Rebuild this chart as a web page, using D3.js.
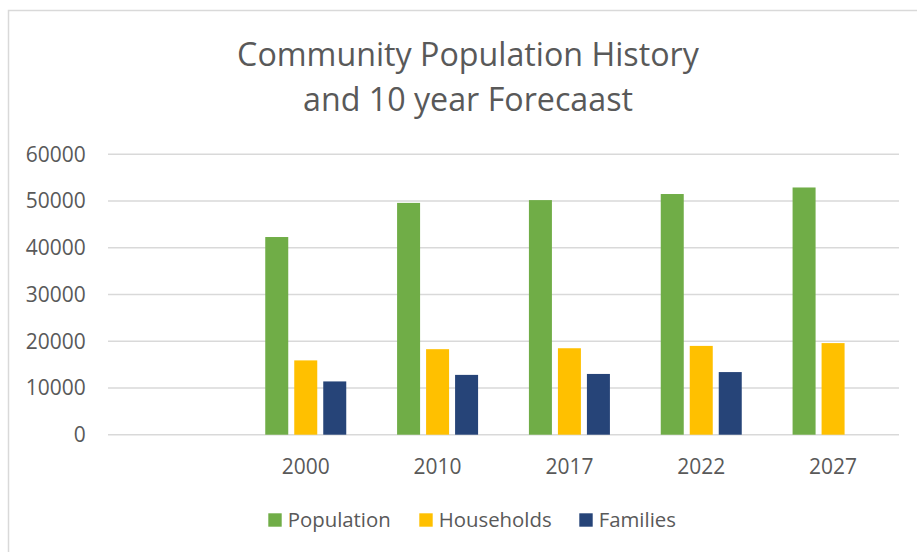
<!DOCTYPE html>
<html>
<head>
<meta charset="utf-8">
<script src="https://cdn.jsdelivr.net/npm/d3@7"></script>
<style>
  html, body { margin: 0; padding: 0; background: #fff; }
  svg { display: block; }
  text { font-family: "Open Sans", "Noto Sans", sans-serif; fill: #595959; }
</style>
</head>
<body>
<svg id="chart" width="917" height="552"></svg>
<script>
// ---- data ----
const titleLines = ["Community Population History", "and 10 year Forecaast"];
const categories = ["", "2000", "2010", "2017", "2022", "2027"];
const seriesNames = ["Population", "Households", "Families"];
const population = [null, 42300, 49600, 50200, 51500, 52900];
const households = [null, 15900, 18300, 18500, 19000, 19600];
const families   = [null, 11400, 12800, 13000, 13400, null];
const yTicks = [0, 10000, 20000, 30000, 40000, 50000, 60000];
const colors = ["#70AD47", "#FFC000", "#264478"];

const seriesValues = [population, households, families];

const svg = d3.select("#chart");
const W = 917, H = 552;

// chart frame (cropped on right/bottom as in reference)
svg.append("rect")
  .attr("x", 8.5).attr("y", 10.5)
  .attr("width", 1000).attr("height", 1000)
  .attr("fill", "#fff")
  .attr("stroke", "#D9D9D9").attr("stroke-width", 1.5);

// plot geometry
const plot = { left: 108, right: 899, top: 154.3, bottom: 434.7 };

const x0 = d3.scaleBand().domain(categories).range([plot.left, plot.right]).padding(0);
const groupWidth = 81;
const x1 = d3.scaleBand().domain(seriesNames).range([0, groupWidth]).paddingInner(6 / 29).paddingOuter(0);
const y = d3.scaleLinear().domain([0, 60000]).range([plot.bottom, plot.top]);

function fitFont(sel, target) {
  const node = sel.node();
  const fs = parseFloat(sel.attr("font-size"));
  const w = node.getComputedTextLength();
  sel.attr("font-size", (fs * target / w).toFixed(2));
  return fs * target / w;
}

// gridlines
svg.append("g").selectAll("line").data(yTicks).join("line")
  .attr("x1", plot.left).attr("x2", plot.right)
  .attr("y1", d => y(d)).attr("y2", d => y(d))
  .attr("stroke", "#D9D9D9").attr("stroke-width", 1.4);

// y axis labels
const ylab = svg.append("g").selectAll("text").data(yTicks).join("text")
  .attr("x", 85.7).attr("y", d => y(d) + 7.4)
  .attr("text-anchor", "end")
  .attr("font-size", 20)
  .text(d => d);
// size so that "60000" is ~60px wide
{
  const last = ylab.filter(d => d === 60000);
  const fs = fitFont(last, 60);
  ylab.attr("font-size", fs.toFixed(2));
}

// bars
const groups = svg.append("g").selectAll("g").data(categories).join("g")
  .attr("transform", d => `translate(${x0(d) + (x0.bandwidth() - groupWidth) / 2},0)`);

groups.selectAll("rect")
  .data((c, i) => seriesNames.map((s, k) => ({ s, k, v: seriesValues[k][i] })).filter(d => d.v != null))
  .join("rect")
  .attr("x", d => x1(d.s))
  .attr("width", x1.bandwidth())
  .attr("y", d => y(d.v))
  .attr("height", d => y(0) - y(d.v))
  .attr("fill", d => colors[d.k]);

// x labels
const axisFs = parseFloat(ylab.attr("font-size"));
svg.append("g").selectAll("text").data(categories).join("text")
  .attr("x", d => x0(d) + x0.bandwidth() / 2)
  .attr("y", 474)
  .attr("text-anchor", "middle")
  .attr("font-size", axisFs)
  .text(d => d);

// title
const t1 = svg.append("text").attr("x", 468).attr("y", 66).attr("text-anchor", "middle")
  .attr("font-size", 30).text(titleLines[0]);
const tfs = fitFont(t1, 462);
svg.append("text").attr("x", 468).attr("y", 111).attr("text-anchor", "middle")
  .attr("font-size", tfs.toFixed(2)).text(titleLines[1]);

// legend
const legendX = [268.3, 419.3, 579.3];
const leg = svg.append("g").selectAll("g").data(seriesNames).join("g")
  .attr("transform", (d, i) => `translate(${legendX[i]},0)`);
leg.append("rect").attr("x", 0).attr("y", 513.3).attr("width", 13.4).attr("height", 13.4)
  .attr("fill", (d, i) => colors[i]);
const legText = leg.append("text").attr("x", 19.4).attr("y", 526.7)
  .attr("font-size", axisFs).text(d => d);
{
  const first = legText.filter(d => d === "Population");
  const fs = fitFont(first, 103);
  legText.attr("font-size", fs.toFixed(2));
}
</script>
</body>
</html>
